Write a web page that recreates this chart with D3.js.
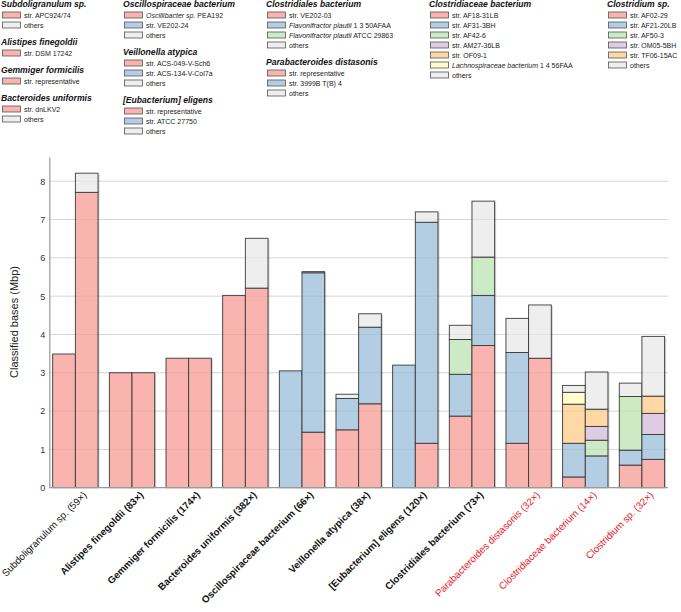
<!DOCTYPE html>
<html><head><meta charset="utf-8">
<script src="https://cdn.jsdelivr.net/npm/d3@7"></script>
<style>
body{margin:0;background:#fff;}
text{font-family:"Liberation Sans",Arial,sans-serif;}
</style></head>
<body><svg id="c" width="681" height="612"></svg>
<script>
const species = ["Subdoligranulum sp.", "Alistipes finegoldii", "Gemmiger formicilis", "Bacteroides uniformis",
  "Oscillospiraceae bacterium", "Veillonella atypica", "[Eubacterium] eligens", "Clostridiales bacterium",
  "Parabacteroides distasonis", "Clostridiaceae bacterium", "Clostridium sp."];
const coverage = ["59×","83×","174×","382×","66×","38×","120×","73×","32×","14×","32×"];
const strains = [
  ["str. APC924/74","others"],
  ["str. DSM 17242"],
  ["str. representative"],
  ["str. dnLKV2","others"],
  ["Oscillibacter sp. PEA192","str. VE202-24","others"],
  ["str. ACS-049-V-Sch6","str. ACS-134-V-Col7a","others"],
  ["str. representative","str. ATCC 27750","others"],
  ["str. VE202-03","Flavonifractor plautii 1 3 50AFAA","Flavonifractor plautii ATCC 29863","others"],
  ["str. representative","str. 3999B T(B) 4","others"],
  ["str. AF18-31LB","str. AF31-3BH","str. AF42-6","str. AM27-36LB","str. OF09-1","Lachnospiraceae bacterium 1 4 56FAA","others"],
  ["str. AF02-29","str. AF21-20LB","str. AF50-3","str. OM05-5BH","str. TF06-15AC","others"]
];
const italicNames = ["Oscillibacter sp.","Flavonifractor plautii","Lachnospiraceae bacterium"];
// segment sizes (Mbp) per strain, first and second bar of each species
const barA = [[3.49,0],[3.0],[3.38],[5.02,0],[0,3.05,0],[1.51,0.82,0.11],[0,3.2,0],
  [1.87,1.09,0.91,0.37],[1.16,2.37,0.89],[0.28,0.88,0,0,1.02,0.31,0.18],[0.59,0.39,1.40,0,0,0.35]];
const barB = [[7.71,0.50],[3.0],[3.38],[5.21,1.30],[1.45,4.16,0.03],[2.19,2.0,0.35],[1.16,5.77,0.27],
  [3.71,1.31,1.0,1.46],[3.38,0,1.39],[0,0.83,0.41,0.36,0.45,0,0.97],[0.74,0.65,0,0.55,0.45,1.56]];
const yTicks = [0,1,2,3,4,5,6,7,8];

const palette = ["#f9b4b0","#b3cde3","#ccebc5","#decbe4","#fed9a6","#ffffcc"];
const othersColor = "#eeeeee";
const colorFor = (name,i) => name === "others" ? othersColor : palette[i];

const svg = d3.select("#c");
const x = d3.scaleBand().domain(species).range([49.3, 668]).paddingInner(0.2).paddingOuter(0.06);
const xi = d3.scaleBand().domain(["A","B"]).range([0, x.bandwidth()]).padding(0);
const y = d3.scaleLinear().domain([0, 8.64]).range([487.7, 156.7]);

// gridlines
svg.append("g").selectAll("line").data(yTicks.filter(d=>d>0)).join("line")
  .attr("x1", 49.3).attr("x2", 668).attr("y1", d=>y(d)).attr("y2", d=>y(d))
  .attr("stroke", "#e2e2e2").attr("stroke-width", 1);

// bars
const bars = [];
species.forEach((sp, si) => {
  [["A", barA[si]], ["B", barB[si]]].forEach(([k, vals]) => {
    let cum = 0;
    const segs = [];
    vals.forEach((v, j) => {
      if (v > 0) segs.push({sp, k, y0: cum, y1: cum + v, color: colorFor(strains[si][j], j)});
      cum += v;
    });
    bars.push({sp, k, total: cum, segs});
  });
});
const gb = svg.append("g");
gb.selectAll("rect.sh").data(bars).join("rect").attr("class","sh")
  .attr("x", d => x(d.sp) + xi(d.k) + 1.5).attr("width", xi.bandwidth())
  .attr("y", d => y(d.total) + 1).attr("height", d => y(0) - y(d.total) - 1)
  .attr("fill", "#000").attr("opacity", 0.18);
gb.selectAll("g.bar").data(bars).join("g").attr("class","bar")
  .selectAll("rect").data(d => d.segs).join("rect")
  .attr("x", d => x(d.sp) + xi(d.k)).attr("width", xi.bandwidth())
  .attr("y", d => y(d.y1)).attr("height", d => y(d.y0) - y(d.y1))
  .attr("fill", d => d.color).attr("stroke", "#3a3a3a").attr("stroke-width", 0.9);

// gridlines overlay (faint, visible through bars)
svg.append("g").selectAll("line").data(yTicks.filter(d=>d>0)).join("line")
  .attr("x1", 49.3).attr("x2", 668).attr("y1", d=>y(d)).attr("y2", d=>y(d))
  .attr("stroke", "#000").attr("stroke-opacity", 0.05).attr("stroke-width", 1);

// axes
const ay = svg.append("g").attr("transform", "translate(49.3,0)")
  .call(d3.axisLeft(y).tickValues(yTicks).tickSize(0).tickPadding(4).tickFormat(d3.format("d")));
ay.select(".domain").attr("stroke", "#9a9a9a").attr("stroke-width", 1.2);
ay.selectAll("text").attr("font-size", 9).attr("fill", "#333").attr("font-family", "Liberation Sans, Arial, sans-serif");
svg.append("line").attr("x1", 49.3).attr("x2", 668).attr("y1", y(0)).attr("y2", y(0))
  .attr("stroke", "#9a9a9a").attr("stroke-width", 1.2);

svg.append("text").attr("transform", "translate(18,322) rotate(-90)")
  .attr("text-anchor", "middle").attr("font-size", 11).attr("fill", "#222")
  .text("Classified bases (Mbp)");

// x labels
const labelWeight = i => (i >= 1 && i <= 7) ? "bold" : "normal";
const labelColor = i => i >= 8 ? "#e8161b" : "#111";
svg.append("g").selectAll("text").data(species).join("text")
  .attr("transform", d => `translate(${x(d) + x.bandwidth()/2 + 12},${y(0) + 8}) rotate(-45)`)
  .attr("text-anchor", "end").attr("font-size", 9.8)
  .attr("font-weight", (d,i) => labelWeight(i)).attr("fill", (d,i) => labelColor(i))
  .text((d,i) => `${d} (${coverage[i]})`);

// legend
const legendCols = [[0,1,2,3],[4,5,6],[7,8],[9],[10]];
const colX = [1, 123, 266, 429, 607];
legendCols.forEach((col, ci) => {
  let cy = 4;
  col.forEach(si => {
    const g = svg.append("g");
    g.append("text").attr("x", colX[ci]).attr("y", cy + 3)
      .attr("font-size", 8.6).attr("font-weight", "bold").attr("font-style", "italic").attr("fill", "#111")
      .text(species[si]);
    cy += 11;
    strains[si].forEach((s, j) => {
      g.append("rect").attr("x", colX[ci] + 1.5).attr("y", cy - 3).attr("width", 18).attr("height", 6)
        .attr("fill", colorFor(s, j)).attr("stroke", "#555").attr("stroke-width", 0.8);
      const t = g.append("text").attr("x", colX[ci] + 23).attr("y", cy + 2.5)
        .attr("font-size", 7).attr("fill", "#222");
      const it = italicNames.find(n => s.startsWith(n));
      if (it) {
        t.append("tspan").attr("font-style", "italic").text(it);
        t.append("tspan").text(s.slice(it.length));
      } else t.text(s);
      cy += 10;
    });
    cy += 7;
  });
});
</script></body></html>
